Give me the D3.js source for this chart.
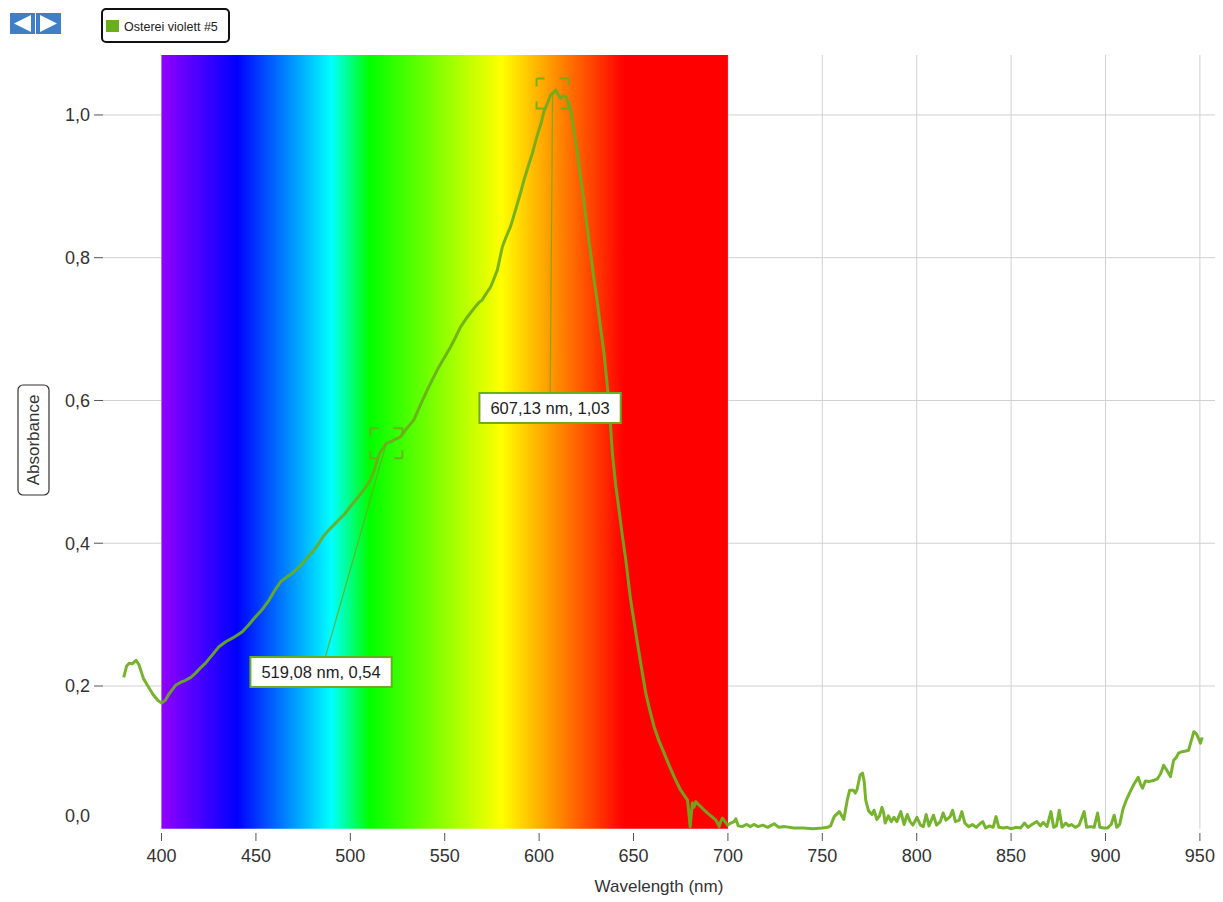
<!DOCTYPE html>
<html><head><meta charset="utf-8">
<script src="https://cdn.jsdelivr.net/npm/d3@7"></script>
<style>
html,body{margin:0;padding:0;background:#fff;}
svg{display:block;font-family:Arial,"Liberation Sans",sans-serif;}
</style></head>
<body><svg id="chart" width="1223" height="902"></svg>
<script>
// ---- data ----
const seriesName = "Osterei violett #5";
const wavelengths = [380.0,381.5,383.0,384.5,386.5,388.0,390.5,393.0,395.5,398.0,400.0,402.0,404.0,407.4,410.0,412.7,415.5,418.0,420.5,423.3,427.0,430.4,434.0,437.5,440.0,442.8,446.0,449.8,453.0,456.9,460.0,463.1,466.0,469.3,473.0,476.3,480.0,483.4,485.5,487.8,491.0,494.0,497.0,499.3,503.0,506.3,508.5,510.7,512.5,514.3,515.5,517.0,519.1,522.0,524.0,526.6,529.3,531.5,533.7,537.0,540.8,544.0,546.9,550.0,553.1,556.0,558.4,562.0,565.5,568.0,569.9,572.0,574.3,576.0,577.9,580.5,582.5,584.9,586.5,588.5,590.5,592.0,594.0,596.4,598.0,599.9,601.0,602.6,604.5,606.1,607.1,608.8,610.0,611.4,612.5,614.1,615.5,616.7,618.5,620.3,622.0,623.8,625.5,627.3,629.0,630.9,632.6,634.4,635.7,637.0,638.8,640.5,642.3,644.0,645.9,647.2,648.5,650.3,652.1,654.3,656.5,658.7,660.9,663.5,666.2,669.0,671.5,673.3,675.0,676.8,678.6,679.4,680.0,680.6,681.2,682.0,683.0,684.3,685.6,687.5,689.2,691.5,693.6,694.5,695.4,696.2,697.1,698.5,699.8,701.5,703.3,704.2,705.5,707.5,710.0,712.0,713.7,716.0,718.5,721.0,724.5,727.0,730.0,735.0,740.0,745.0,750.0,752.8,754.4,756.3,759.0,761.4,763.2,764.5,766.5,767.5,768.5,770.0,771.3,772.2,773.0,774.5,776.3,777.4,778.9,780.3,781.6,782.5,783.3,785.0,786.5,788.0,789.5,791.6,793.3,795.0,796.5,798.0,800.1,802.0,803.5,805.0,806.5,808.9,810.5,812.5,814.0,815.5,817.7,819.0,820.5,822.5,823.9,825.5,827.5,829.5,831.5,833.5,835.0,836.5,838.5,840.5,842.0,843.5,846.0,848.0,850.0,852.5,855.0,857.0,859.0,861.0,863.7,865.5,867.0,869.0,871.1,872.5,874.0,875.5,877.0,879.0,880.5,882.0,884.0,886.0,888.7,890.0,892.0,894.0,895.8,897.0,899.0,901.0,903.0,904.6,906.0,907.5,909.3,911.0,913.1,915.0,917.3,918.6,919.6,921.2,923.0,925.8,927.5,929.2,930.8,932.5,934.4,936.1,937.5,938.7,940.5,942.5,944.0,945.3,946.8,948.2,949.5,950.3,951.2];
const absorbance = [0.212,0.228,0.232,0.231,0.236,0.230,0.210,0.199,0.188,0.180,0.176,0.180,0.189,0.201,0.205,0.208,0.212,0.218,0.225,0.232,0.244,0.255,0.262,0.267,0.271,0.276,0.285,0.297,0.306,0.320,0.334,0.346,0.352,0.358,0.367,0.377,0.388,0.400,0.409,0.416,0.425,0.433,0.441,0.449,0.461,0.472,0.480,0.489,0.501,0.517,0.526,0.532,0.540,0.543,0.546,0.549,0.559,0.566,0.573,0.593,0.615,0.632,0.647,0.661,0.675,0.690,0.703,0.717,0.729,0.737,0.741,0.750,0.759,0.770,0.783,0.815,0.829,0.844,0.858,0.876,0.894,0.909,0.926,0.946,0.962,0.979,0.988,1.005,1.017,1.028,1.030,1.035,1.029,1.023,1.027,1.026,1.017,1.007,0.977,0.946,0.912,0.876,0.841,0.806,0.771,0.736,0.701,0.666,0.631,0.596,0.526,0.483,0.447,0.412,0.377,0.348,0.320,0.290,0.260,0.224,0.190,0.165,0.143,0.123,0.106,0.088,0.073,0.063,0.054,0.047,0.040,0.020,0.003,0.020,0.036,0.030,0.038,0.034,0.031,0.026,0.022,0.017,0.012,0.008,0.003,0.010,0.015,0.010,0.005,0.008,0.010,0.014,0.004,0.003,0.006,0.003,0.006,0.003,0.005,0.002,0.007,0.002,0.003,0.001,0.001,0.000,0.001,0.002,0.004,0.017,0.024,0.013,0.040,0.054,0.054,0.050,0.056,0.075,0.078,0.066,0.040,0.025,0.020,0.026,0.013,0.018,0.030,0.022,0.008,0.018,0.010,0.016,0.010,0.024,0.006,0.020,0.010,0.005,0.016,0.005,0.003,0.020,0.004,0.019,0.005,0.010,0.022,0.012,0.017,0.026,0.010,0.012,0.024,0.008,0.003,0.006,0.002,0.007,0.010,0.001,0.004,0.002,0.017,0.002,0.001,0.002,0.000,0.002,0.001,0.008,0.002,0.006,0.010,0.004,0.009,0.003,0.024,0.002,0.004,0.026,0.002,0.008,0.004,0.006,0.002,0.005,0.024,0.002,0.003,0.002,0.022,0.002,0.001,0.001,0.006,0.019,0.002,0.006,0.028,0.040,0.052,0.062,0.072,0.062,0.057,0.067,0.066,0.068,0.070,0.077,0.089,0.082,0.073,0.096,0.100,0.106,0.108,0.109,0.110,0.122,0.136,0.133,0.125,0.120,0.128];
const xTicks = [400,450,500,550,600,650,700,750,800,850,900,950];
const yTicks = [0,0.2,0.4,0.6,0.8,1.0];
const spectrumStops = [400,440,490,510,580,645,700];
const spectrumColors = ["#9000ff","#0000ff","#00ffff","#00ff00","#ffff00","#ff0000","#ff0000"];
const annotWl = [519.08, 607.13];
const annotAbs = [0.54, 1.03];
const annotLabels = ["519,08 nm, 0,54", "607,13 nm, 1,03"];
const annotLabelWl = [484.5, 605.8];
const annotLabelAbs = [0.2196, 0.5895];
const xTitle = "Wavelength (nm)";
const yTitle = "Absorbance";

// ---- layout ----
const svg = d3.select("#chart");
const pLeft = 103, pRight = 1215, pTop = 55, pBottom = 828.75;
const x = d3.scaleLinear().domain([369, 958]).range([pLeft, pRight]);
const y = d3.scaleLinear().domain([0, 1.084]).range([pBottom, pTop]);
const green = "#6aae1c";
const fmt = v => d3.format(".1f")(v).replace(".", ",");

// gridlines
svg.append("g").selectAll("line").data(yTicks.filter(d => d > 0)).join("line")
  .attr("x1", pLeft).attr("x2", pRight).attr("y1", d => y(d)).attr("y2", d => y(d))
  .attr("stroke", "#d0d0d0").attr("stroke-width", 1);
svg.append("g").selectAll("line").data(xTicks).join("line")
  .attr("x1", d => x(d)).attr("x2", d => x(d)).attr("y1", pTop).attr("y2", pBottom)
  .attr("stroke", "#d0d0d0").attr("stroke-width", 1);

// spectrum
const defs = svg.append("defs");
const grad = defs.append("linearGradient").attr("id", "spec")
  .attr("gradientUnits", "userSpaceOnUse")
  .attr("x1", x(spectrumStops[0])).attr("x2", x(spectrumStops[spectrumStops.length-1]))
  .attr("y1", 0).attr("y2", 0);
grad.selectAll("stop").data(spectrumStops).join("stop")
  .attr("offset", d => (d - spectrumStops[0]) / (spectrumStops[spectrumStops.length-1] - spectrumStops[0]))
  .attr("stop-color", (d, i) => spectrumColors[i]);
svg.append("rect")
  .attr("x", x(400)).attr("y", pTop).attr("width", x(700) - x(400)).attr("height", pBottom - pTop)
  .attr("fill", "url(#spec)");

// y axis ticks/labels
const yAx = svg.append("g");
yTicks.forEach(t => {
  if (t > 0) {
    yAx.append("line").attr("x1", 94).attr("x2", 103).attr("y1", y(t)).attr("y2", y(t))
      .attr("stroke", "#555").attr("stroke-width", 1);
  }
  yAx.append("text").attr("x", 90).attr("y", y(t) - (t === 0 ? 13 : 0)).attr("dy", "0.35em")
    .attr("text-anchor", "end").attr("font-size", 18).attr("fill", "#333").text(fmt(t));
});

// x axis ticks/labels
const xAx = svg.append("g");
xTicks.forEach(t => {
  xAx.append("line").attr("x1", x(t)).attr("x2", x(t)).attr("y1", 833).attr("y2", 841)
    .attr("stroke", "#555").attr("stroke-width", 1);
  xAx.append("text").attr("x", x(t)).attr("y", 862).attr("text-anchor", "middle")
    .attr("font-size", 18).attr("fill", "#333").text(t);
});
svg.append("text").attr("x", (pLeft + pRight) / 2).attr("y", 892).attr("text-anchor", "middle")
  .attr("font-size", 17).attr("fill", "#333").text(xTitle);

// y title with box
const yt = svg.append("g").attr("transform", "translate(33,440) rotate(-90)");
yt.append("rect").attr("x", -55).attr("y", -15).attr("width", 110).attr("height", 31)
  .attr("rx", 5).attr("fill", "#fff").attr("stroke", "#333").attr("stroke-width", 1.2);
yt.append("text").attr("x", 0).attr("y", 0).attr("dy", "0.35em").attr("text-anchor", "middle")
  .attr("font-size", 17).attr("fill", "#333").text(yTitle);

// curve
const pts = wavelengths.map((w, i) => [w, absorbance[i]]);
svg.append("path").datum(pts)
  .attr("d", d3.line().x(d => x(d[0])).y(d => y(d[1])))
  .attr("fill", "none").attr("stroke", green).attr("stroke-width", 3)
  .attr("stroke-linejoin", "round").attr("opacity", 0.92);

// annotations
annotWl.forEach((w, i) => {
  const px = x(w), py = y(annotAbs[i]);
  const lx = x(annotLabelWl[i]), ly = y(annotLabelAbs[i]);
  svg.append("line").attr("x1", lx).attr("y1", ly).attr("x2", px).attr("y2", py)
    .attr("stroke", green).attr("stroke-width", 1.2).attr("opacity", 0.85);
  svg.append("rect").attr("x", px - 16).attr("y", py - 15).attr("width", 32).attr("height", 30)
    .attr("fill", "none").attr("stroke", green).attr("stroke-width", 2)
    .attr("stroke-dasharray", "8 15 8 0").attr("opacity", 0.9);
  const g = svg.append("g");
  const txt = g.append("text").attr("x", lx).attr("y", ly).attr("dy", "0.35em")
    .attr("text-anchor", "middle").attr("font-size", 16.5).attr("fill", "#222").text(annotLabels[i]);
  const wdt = txt.node().getComputedTextLength() + 22;
  g.insert("rect", "text").attr("x", lx - wdt / 2).attr("y", ly - 15).attr("width", wdt).attr("height", 30)
    .attr("fill", "#fff").attr("stroke", green).attr("stroke-width", 2);
});

// legend
const lg = svg.append("g");
lg.append("rect").attr("x", 102).attr("y", 9).attr("width", 127).attr("height", 33).attr("rx", 4)
  .attr("fill", "#fff").attr("stroke", "#111").attr("stroke-width", 2);
lg.append("rect").attr("x", 106).attr("y", 20).attr("width", 13).attr("height", 12).attr("fill", green);
lg.append("text").attr("x", 124).attr("y", 31).attr("font-size", 12.5).attr("fill", "#222").text(seriesName);

// nav buttons
const nav = svg.append("g");
nav.append("rect").attr("x", 10).attr("y", 13).attr("width", 25).attr("height", 21).attr("fill", "#3f7fc6");
nav.append("rect").attr("x", 36).attr("y", 13).attr("width", 25).attr("height", 21).attr("fill", "#3f7fc6");
nav.append("path").attr("d", "M14,23.5 L31,15 L31,32 Z").attr("fill", "#fff");
nav.append("path").attr("d", "M57,23.5 L40,15 L40,32 Z").attr("fill", "#fff");
</script>
</body></html>
